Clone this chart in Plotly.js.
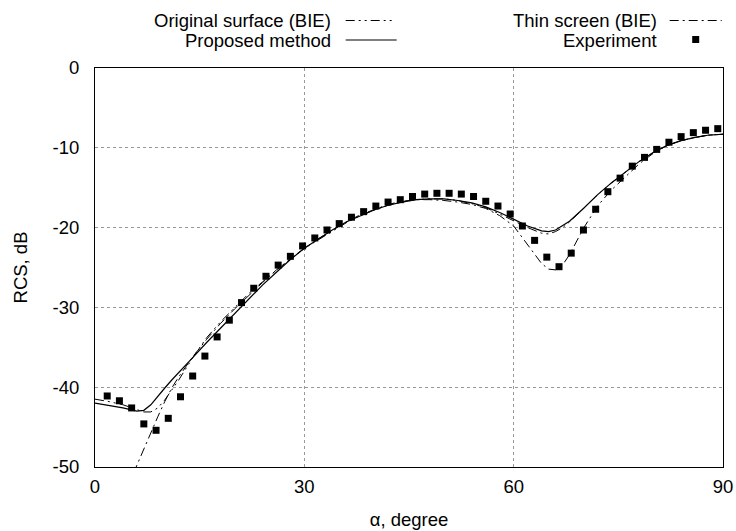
<!DOCTYPE html>
<html>
<head>
<meta charset="utf-8">
<script src="https://cdn.plot.ly/plotly-3.0.1.min.js"></script>
<style>html,body{margin:0;padding:0;background:#fff;}#chart{width:736px;height:531px;}</style>
</head>
<body>
<div id="chart"></div>
<script>
// Experiment (squares)
const expAngle = [1.75,3.5,5.25,7,8.75,10.5,12.25,14,15.75,17.5,19.25,21,22.75,24.5,26.25,28,29.75,31.5,33.25,35,36.75,38.5,40.25,42,43.75,45.5,47.25,49,50.75,52.5,54.25,56,57.75,59.5,61.25,63,64.75,66.5,68.25,70,71.75,73.5,75.25,77,78.75,80.5,82.25,84,85.75,87.5,89.25];
const expRCS = [-41.1,-41.7,-42.6,-44.6,-45.4,-43.9,-41.2,-38.6,-36.1,-33.7,-31.6,-29.4,-27.6,-26.1,-24.7,-23.6,-22.3,-21.3,-20.3,-19.5,-18.7,-18.0,-17.3,-16.8,-16.5,-16.1,-15.8,-15.7,-15.7,-15.8,-16.1,-16.7,-17.3,-18.3,-19.8,-21.6,-23.7,-24.9,-23.2,-20.3,-17.7,-15.5,-13.8,-12.3,-11.2,-10.2,-9.3,-8.6,-8.1,-7.8,-7.6];

// Original surface (BIE)
const origAngle = [0,2,4,6,7,8,9,10,11,12,14,16,18,20,22,24,26,28,30,32,34,36,38,40,42,44,46,48,50,52,54,56,58,60,62,64,65,66,67,68,70,72,74,76,78,80,82,84,86,88,90];
const origRCS = [-41.5,-41.8,-42.2,-42.8,-43.1,-43.1,-42.6,-41.6,-40.4,-39.1,-36.3,-33.8,-31.8,-30.0,-28.3,-26.8,-25.3,-23.9,-22.6,-21.5,-20.4,-19.4,-18.5,-17.8,-17.2,-16.8,-16.5,-16.4,-16.4,-16.6,-17.0,-17.5,-18.3,-19.2,-20.0,-20.7,-20.8,-20.5,-20.0,-19.3,-17.6,-15.9,-14.4,-13.0,-11.7,-10.6,-9.7,-9.1,-8.7,-8.4,-8.3];

// Proposed method
const propAngle = [0,2,4,6,7,8,9,10,11,12,14,16,18,20,22,24,26,28,30,32,34,36,38,40,42,44,46,48,50,52,54,56,58,60,62,64,65,66,67,68,70,72,74,76,78,80,82,84,86,88,90];
const propRCS = [-42.0,-42.3,-42.6,-43.0,-42.9,-42.2,-41.1,-40.1,-39.1,-38.2,-36.3,-34.4,-32.6,-30.8,-29.0,-27.2,-25.6,-24.0,-22.6,-21.4,-20.3,-19.3,-18.5,-17.8,-17.2,-16.8,-16.5,-16.4,-16.4,-16.6,-16.9,-17.4,-18.1,-19.0,-19.8,-20.4,-20.5,-20.3,-19.8,-19.2,-17.6,-15.9,-14.4,-13.0,-11.7,-10.6,-9.7,-9.1,-8.7,-8.4,-8.3];

// Thin screen (BIE)
const thinAngle = [5.5,7,8,9,10,11,12,14,16,18,20,22,24,26,28,30,32,34,36,38,40,42,44,46,48,50,52,54,56,58,60,62,64,65,66,67,68,70,72,74,76,78,80,82,84,86,88,90];
const thinRCS = [-50.8,-47.7,-45.7,-43.7,-41.8,-40.1,-38.7,-36.2,-34.0,-32.0,-30.2,-28.5,-26.9,-25.3,-23.9,-22.6,-21.4,-20.3,-19.3,-18.4,-17.7,-17.1,-16.7,-16.5,-16.5,-16.6,-16.8,-17.1,-17.6,-18.5,-19.8,-22.2,-24.5,-25.2,-25.3,-24.7,-23.4,-20.1,-17.3,-15.3,-13.6,-12.0,-10.7,-9.7,-9.1,-8.7,-8.4,-8.3];

const xTicks = [0,30,60,90];
const xTickText = ['0','30','60','90'];
const yTicks = [0,-10,-20,-30,-40,-50];
const yTickText = ['0','-10','-20','-30','-40','-50'];

const FONT = 'Liberation Sans, Arial, Helvetica, sans-serif';
const FS = 18.5;
const DASH_ORIG = '9px,4px,2px,4px,2px,4px';
const DASH_THIN = '9px,4px,2px,4px';

const traces = [
  {x: origAngle, y: origRCS, mode: 'lines', line: {color: '#000', width: 1, dash: DASH_ORIG}, showlegend: false, hoverinfo: 'skip'},
  {x: thinAngle, y: thinRCS, mode: 'lines', line: {color: '#000', width: 1, dash: DASH_THIN}, showlegend: false, hoverinfo: 'skip'},
  {x: propAngle, y: propRCS, mode: 'lines', line: {color: '#000', width: 1.2}, showlegend: false, hoverinfo: 'skip'},
  {x: expAngle, y: expRCS, mode: 'markers', marker: {symbol: 'square', size: 7, color: '#000'}, showlegend: false, hoverinfo: 'skip', cliponaxis: true}
];

// legend helpers (paper coords of plot area)
const L = 95.3, R = 723.3, T = 68, B = 467;
const px = v => (v - L) / (R - L);
const py = v => (B - v) / (B - T);

const annotations = [
  {text: 'Original surface (BIE)', x: px(333), y: py(21), xref: 'paper', yref: 'paper', xanchor: 'right', yanchor: 'middle', showarrow: false},
  {text: 'Proposed method', x: px(333), y: py(40), xref: 'paper', yref: 'paper', xanchor: 'right', yanchor: 'middle', showarrow: false},
  {text: 'Thin screen (BIE)', x: px(659), y: py(21), xref: 'paper', yref: 'paper', xanchor: 'right', yanchor: 'middle', showarrow: false},
  {text: 'Experiment', x: px(659), y: py(40), xref: 'paper', yref: 'paper', xanchor: 'right', yanchor: 'middle', showarrow: false}
];

const shapes = [
  {type: 'line', xref: 'paper', yref: 'paper', x0: px(346), x1: px(395), y0: py(20.5), y1: py(20.5), line: {color: '#000', width: 1, dash: DASH_ORIG}},
  {type: 'line', xref: 'paper', yref: 'paper', x0: px(346), x1: px(397), y0: py(40), y1: py(40), line: {color: '#000', width: 1.2}},
  {type: 'line', xref: 'paper', yref: 'paper', x0: px(670), x1: px(722), y0: py(20.5), y1: py(20.5), line: {color: '#000', width: 1, dash: DASH_THIN}},
  {type: 'rect', xref: 'paper', yref: 'paper', x0: px(692.5), x1: px(699.5), y0: py(36), y1: py(43), line: {width: 0}, fillcolor: '#000'}
];

const layout = {
  width: 736, height: 531,
  margin: {l: 95.3, r: 12.7, t: 68, b: 64},
  paper_bgcolor: '#fff', plot_bgcolor: '#fff',
  font: {family: FONT, size: FS, color: '#000'},
  xaxis: {
    range: [0, 90], tickvals: xTicks, ticktext: xTickText,
    showgrid: true, gridcolor: '#999', griddash: 'dot', gridwidth: 1,
    zeroline: false, showline: true, linecolor: '#000', linewidth: 1, mirror: true,
    ticks: '', ticklabelstandoff: 3,
    title: {text: 'α, degree', font: {family: FONT, size: FS}, standoff: 16}
  },
  yaxis: {
    range: [-50, 0], tickvals: yTicks, ticktext: yTickText,
    showgrid: true, gridcolor: '#999', griddash: 'dot', gridwidth: 1,
    zeroline: false, showline: true, linecolor: '#000', linewidth: 1, mirror: true,
    ticks: '', ticklabelstandoff: 11,
    title: {text: 'RCS, dB', font: {family: FONT, size: FS}, standoff: 20}
  },
  annotations: annotations,
  shapes: shapes
};

Plotly.newPlot('chart', traces, layout, {staticPlot: true, displayModeBar: false});
</script>
</body>
</html>
